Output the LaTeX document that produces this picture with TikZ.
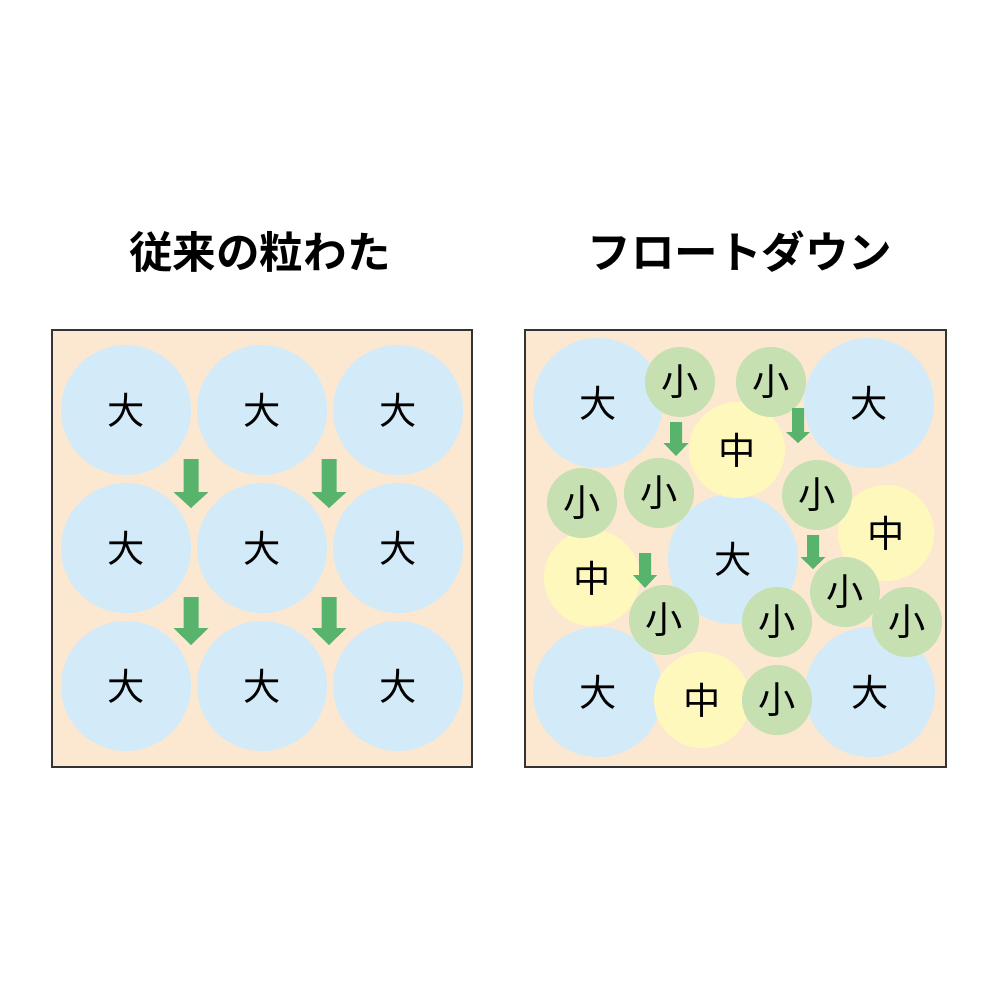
\documentclass[tikz,border=0pt]{standalone}
\usepackage{fontspec}
\newfontfamily\jp{Noto Sans CJK JP}[BoldFont={Noto Sans CJK JP Bold}]
\definecolor{bgbeige}{HTML}{FCE8D0}
\definecolor{bigblue}{HTML}{D3EBF8}
\definecolor{smallgreen}{HTML}{C6E0B2}
\definecolor{midyellow}{HTML}{FFF8BC}
\definecolor{arrowgreen}{HTML}{58B46C}
\definecolor{frame}{HTML}{333333}
\newcommand\fatdown[6]{% cx, top, headstart, tip, shafthalf, headhalf
  \fill[arrowgreen] (#1-#5,#2) -- (#1+#5,#2) -- (#1+#5,#3) -- (#1+#6,#3) -- (#1,#4) -- (#1-#6,#3) -- (#1-#5,#3) -- cycle;}
\begin{document}
\begin{tikzpicture}[x=0.1mm,y=-0.1mm,
  big/.style={circle,fill=bigblue,minimum size=13mm,inner sep=0pt,font=\jp\fontsize{10.6pt}{11pt}\selectfont},
  mid/.style={circle,fill=midyellow,minimum size=9.6mm,inner sep=0pt,font=\jp\fontsize{10.6pt}{11pt}\selectfont},
  small/.style={circle,fill=smallgreen,minimum size=7mm,inner sep=0pt,font=\jp\fontsize{10.6pt}{11pt}\selectfont},
  panel/.style={draw=frame,line width=0.45pt,fill=bgbeige},
  title/.style={font=\jp\bfseries\fontsize{12.4pt}{13pt}\selectfont}]
\useasboundingbox (0,0) rectangle (1000,1000);
\fill[white] (0,0) rectangle (1000,1000);
% titles
\node[title] (t1) at (260,252) {従来の粒わた};
\node[title] (t2) at (740,252) {フロートダウン};
% left panel
\draw[panel] (52,330) rectangle (472,767);
\foreach \i/\x in {1/126,2/262,3/398}{
  \foreach \j/\y in {1/410,2/548,3/686}{
    \node[big] (L\j\i) at (\x,\y) {大};
  }
}
\fatdown{191}{459}{492}{508}{7.5}{17.5}
\fatdown{329}{459}{492}{508}{7.5}{17.5}
\fatdown{191}{597}{628}{645}{7.5}{17.5}
\fatdown{329}{597}{628}{645}{7.5}{17.5}
% right panel
\draw[panel] (525,330) rectangle (946,767);
\node[big] (B1) at (598,403) {大};
\node[big] (B2) at (869,403) {大};
\node[big] (B3) at (733,559) {大};
\node[big] (B4) at (598,692) {大};
\node[big] (B5) at (870,692) {大};
\node[mid] (M1) at (737,450) {中};
\node[mid] (M2) at (886,533) {中};
\node[mid] (M3) at (592,578) {中};
\node[mid] (M4) at (702,700) {中};
\node[small] (S1) at (680,382) {小};
\node[small] (S2) at (771,382) {小};
\node[small] (S3) at (582,503) {小};
\node[small] (S4) at (659,493) {小};
\node[small] (S5) at (817,495) {小};
\node[small] (S6) at (845,592) {小};
\node[small] (S7) at (907,622) {小};
\node[small] (S8) at (664,620) {小};
\node[small] (S9) at (777,622) {小};
\node[small] (S10) at (777,700) {小};
\fatdown{676}{422}{443}{456}{6}{12.5}
\fatdown{798}{408}{432}{443}{6}{12}
\fatdown{813}{535}{557}{569}{6}{12.5}
\fatdown{645}{553}{575}{588}{6}{12}
\end{tikzpicture}
\end{document}
